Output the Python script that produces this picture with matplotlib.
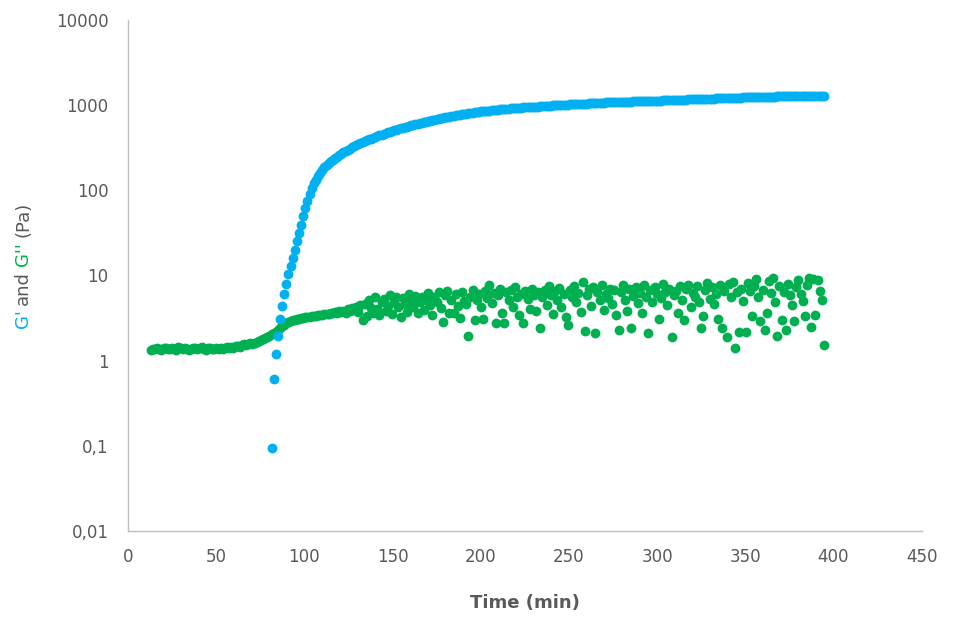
import matplotlib
matplotlib.use('Agg')
import matplotlib.pyplot as plt

# sampling times (min) (~1.2 min step)
time_min = [
    13.0, 14.2, 15.4, 16.6, 17.8, 19.0, 20.2, 21.4, 22.6, 23.8,
    25.0, 26.2, 27.4, 28.6, 29.8, 31.0, 32.2, 33.4, 34.6, 35.8,
    37.0, 38.2, 39.4, 40.6, 41.8, 43.0, 44.2, 45.4, 46.6, 47.8,
    49.0, 50.2, 51.4, 52.6, 53.8, 55.0, 56.2, 57.4, 58.6, 59.8,
    61.0, 62.2, 63.4, 64.6, 65.8, 67.0, 68.2, 69.4, 70.6, 71.8,
    73.0, 74.2, 75.4, 76.6, 77.8, 79.0, 80.2, 81.4, 82.6, 83.8,
    85.0, 86.2, 87.4, 88.6, 89.8, 91.0, 92.2, 93.4, 94.6, 95.8,
    97.0, 98.2, 99.4, 100.6, 101.8, 103.0, 104.2, 105.4, 106.6, 107.8,
    109.0, 110.2, 111.4, 112.6, 113.8, 115.0, 116.2, 117.4, 118.6, 119.8,
    121.0, 122.2, 123.4, 124.6, 125.8, 127.0, 128.2, 129.4, 130.6, 131.8,
    133.0, 134.2, 135.4, 136.6, 137.8, 139.0, 140.2, 141.4, 142.6, 143.8,
    145.0, 146.2, 147.4, 148.6, 149.8, 151.0, 152.2, 153.4, 154.6, 155.8,
    157.0, 158.2, 159.4, 160.6, 161.8, 163.0, 164.2, 165.4, 166.6, 167.8,
    169.0, 170.2, 171.4, 172.6, 173.8, 175.0, 176.2, 177.4, 178.6, 179.8,
    181.0, 182.2, 183.4, 184.6, 185.8, 187.0, 188.2, 189.4, 190.6, 191.8,
    193.0, 194.2, 195.4, 196.6, 197.8, 199.0, 200.2, 201.4, 202.6, 203.8,
    205.0, 206.2, 207.4, 208.6, 209.8, 211.0, 212.2, 213.4, 214.6, 215.8,
    217.0, 218.2, 219.4, 220.6, 221.8, 223.0, 224.2, 225.4, 226.6, 227.8,
    229.0, 230.2, 231.4, 232.6, 233.8, 235.0, 236.2, 237.4, 238.6, 239.8,
    241.0, 242.2, 243.4, 244.6, 245.8, 247.0, 248.2, 249.4, 250.6, 251.8,
    253.0, 254.2, 255.4, 256.6, 257.8, 259.0, 260.2, 261.4, 262.6, 263.8,
    265.0, 266.2, 267.4, 268.6, 269.8, 271.0, 272.2, 273.4, 274.6, 275.8,
    277.0, 278.2, 279.4, 280.6, 281.8, 283.0, 284.2, 285.4, 286.6, 287.8,
    289.0, 290.2, 291.4, 292.6, 293.8, 295.0, 296.2, 297.4, 298.6, 299.8,
    301.0, 302.2, 303.4, 304.6, 305.8, 307.0, 308.2, 309.4, 310.6, 311.8,
    313.0, 314.2, 315.4, 316.6, 317.8, 319.0, 320.2, 321.4, 322.6, 323.8,
    325.0, 326.2, 327.4, 328.6, 329.8, 331.0, 332.2, 333.4, 334.6, 335.8,
    337.0, 338.2, 339.4, 340.6, 341.8, 343.0, 344.2, 345.4, 346.6, 347.8,
    349.0, 350.2, 351.4, 352.6, 353.8, 355.0, 356.2, 357.4, 358.6, 359.8,
    361.0, 362.2, 363.4, 364.6, 365.8, 367.0, 368.2, 369.4, 370.6, 371.8,
    373.0, 374.2, 375.4, 376.6, 377.8, 379.0, 380.2, 381.4, 382.6, 383.8,
    385.0, 386.2, 387.4, 388.6, 389.8, 391.0, 392.2, 393.4, 394.6,
]

# G'' (Pa), one value per time above
g_loss = [
    1.32, 1.38, 1.35, 1.41, 1.36, 1.33, 1.39, 1.42, 1.37, 1.35,
    1.40, 1.38, 1.34, 1.43, 1.39, 1.36, 1.41, 1.37, 1.33, 1.38,
    1.42, 1.39, 1.35, 1.40, 1.44, 1.37, 1.34, 1.39, 1.41, 1.36,
    1.38, 1.42, 1.37, 1.40, 1.36, 1.39, 1.43, 1.40, 1.45, 1.42,
    1.47, 1.50, 1.46, 1.52, 1.55, 1.51, 1.57, 1.60, 1.56, 1.62,
    1.65, 1.68, 1.72, 1.78, 1.84, 1.88, 1.95, 2.02, 2.10, 2.18,
    2.30, 2.40, 2.52, 2.62, 2.72, 2.80, 2.88, 2.95, 3.00, 3.05,
    3.10, 3.14, 3.18, 3.20, 3.25, 3.28, 3.30, 3.35, 3.32, 3.40,
    3.45, 3.42, 3.50, 3.55, 3.48, 3.62, 3.58, 3.70, 3.65, 3.78,
    3.72, 3.85, 3.60, 4.00, 3.80, 4.10, 3.90, 4.30, 3.70, 4.50,
    2.95, 4.60, 3.30, 5.20, 4.10, 3.60, 5.50, 4.00, 3.40, 4.80,
    5.30, 3.80, 4.40, 5.80, 3.50, 4.90, 5.60, 4.20, 3.20, 5.40,
    4.60, 3.70, 6.00, 5.10, 4.30, 5.70, 3.60, 4.80, 5.50, 3.90,
    5.20, 6.20, 4.50, 3.40, 5.60, 4.90, 6.40, 4.10, 2.80, 5.80,
    6.50, 3.60, 5.10, 3.60, 6.00, 4.40, 3.17, 6.30, 5.00, 4.60,
    1.95, 5.60, 6.80, 3.00, 5.20, 6.10, 4.30, 3.03, 6.60, 5.40,
    7.80, 4.70, 6.20, 2.77, 5.80, 6.90, 3.60, 2.77, 6.40, 5.10,
    6.70, 4.20, 7.20, 5.50, 3.40, 6.00, 2.77, 6.50, 5.30, 4.00,
    7.00, 5.80, 3.80, 6.30, 2.42, 5.50, 6.80, 4.50, 7.40, 5.90,
    3.50, 6.60, 5.20, 7.10, 4.30, 6.00, 3.20, 2.64, 6.80, 5.60,
    7.50, 4.80, 6.20, 3.70, 8.30, 2.20, 5.90, 6.90, 4.40, 7.20,
    2.10, 6.40, 5.10, 7.60, 3.90, 6.10, 5.40, 7.00, 4.60, 6.70,
    3.40, 2.30, 6.30, 7.80, 5.20, 3.80, 6.90, 2.42, 5.70, 7.30,
    4.70, 6.20, 3.60, 7.70, 5.50, 2.10, 6.80, 4.90, 7.20, 6.00,
    3.10, 5.40, 7.90, 6.40, 4.50, 7.00, 1.90, 5.80, 6.60, 3.60,
    7.40, 5.10, 3.00, 6.90, 7.80, 4.30, 6.20, 5.60, 7.50, 4.80,
    2.40, 3.30, 6.70, 8.10, 5.30, 7.20, 4.60, 6.00, 3.10, 7.60,
    2.40, 6.50, 1.90, 7.90, 5.60, 8.40, 1.41, 6.30, 2.15, 7.00,
    5.00, 2.15, 8.20, 6.60, 3.30, 7.40, 9.10, 5.50, 2.90, 6.80,
    2.30, 3.60, 8.60, 6.20, 9.40, 4.80, 1.96, 7.50, 3.00, 6.40,
    2.30, 8.00, 5.80, 4.50, 2.90, 7.20, 8.80, 6.00, 5.00, 3.30,
    7.60, 9.40, 2.50, 9.10, 3.40, 8.90, 6.50, 5.20, 1.52,
]

# G' (Pa): below 0.01 before 81.4 min, so only listed from there on
gp_first = 81.4
g_storage = [
    0.094, 0.61, 1.2,
    1.93, 3.1, 4.4, 5.96, 7.9, 10.4, 12.8, 16, 20, 25,
    31.6, 39.4, 49.5, 62, 74, 89, 106, 120, 133, 146,
    160, 173, 185, 196, 207, 218, 228, 239, 248, 257,
    267, 277, 288, 298, 308, 319, 328, 337, 347, 356,
    366, 375, 385, 394, 403, 412, 421, 430, 439, 448,
    457, 466, 475, 484, 494, 504, 513, 523, 533, 542,
    550, 557, 565, 574, 582, 592, 600, 608, 618, 627,
    635, 646, 655, 664, 673, 684, 692, 698, 706, 714,
    723, 731, 740, 746, 755, 762, 769, 776, 783, 791,
    798, 804, 811, 818, 826, 834, 839, 845, 849, 855,
    859, 865, 869, 875, 879, 885, 889, 893, 899, 904,
    910, 914, 920, 925, 927, 931, 935, 938, 942, 946,
    948, 953, 957, 959, 964, 968, 970, 975, 979, 984,
    986, 991, 995, 998, 1002, 1005, 1007, 1012, 1014, 1016,
    1021, 1023, 1026, 1030, 1033, 1035, 1040, 1042, 1045, 1050,
    1052, 1054, 1059, 1062, 1067, 1069, 1072, 1074, 1076, 1078,
    1080, 1083, 1085, 1087, 1089, 1091, 1094, 1096, 1098, 1100,
    1102, 1105, 1107, 1109, 1111, 1113, 1116, 1118, 1120, 1122,
    1125, 1127, 1130, 1132, 1135, 1137, 1139, 1142, 1144, 1147,
    1149, 1152, 1154, 1156, 1159, 1161, 1164, 1166, 1169, 1171,
    1173, 1176, 1178, 1181, 1183, 1186, 1189, 1191, 1194, 1197,
    1199, 1202, 1205, 1207, 1210, 1213, 1215, 1218, 1221, 1223,
    1226, 1229, 1231, 1234, 1237, 1239, 1242, 1244, 1246, 1247,
    1249, 1250, 1252, 1253, 1255, 1256, 1258, 1259, 1260, 1262,
    1263, 1265, 1266, 1268, 1269, 1270, 1272, 1273, 1275, 1276,
    1278, 1279, 1280, 1282, 1283, 1285, 1286, 1288, 1289,
]
t_storage = [t for t in time_min if t >= gp_first]

x_ticks = [0, 50, 100, 150, 200, 250, 300, 350, 400, 450]
y_ticks = [0.01, 0.1, 1, 10, 100, 1000, 10000]
y_tick_labels = ['0,01', '0,1', '1', '10', '100', '1000', '10000']

blue = '#00B0F0'
green = '#00B050'
gray = '#595959'

plt.rcParams['font.family'] = ['DejaVu Sans']

fig = plt.figure(figsize=(9.62, 6.18), dpi=100)
ax = fig.add_axes([0.133, 0.141, 0.825, 0.827])

ax.scatter(time_min, g_loss, s=50, color=green, linewidths=0, zorder=2)
ax.scatter(t_storage, g_storage, s=50, color=blue, linewidths=0, zorder=3)

ax.set_yscale('log')
ax.set_xlim(0, 450)
ax.set_ylim(0.01, 10000)
ax.set_xticks(x_ticks)
ax.set_xticklabels([str(v) for v in x_ticks])
ax.set_yticks(y_ticks)
ax.set_yticklabels(y_tick_labels)
ax.minorticks_off()
ax.tick_params(axis='both', length=0, labelsize=12, labelcolor=gray)
ax.tick_params(axis='x', pad=12)
ax.tick_params(axis='y', pad=14)

for side in ['top', 'right']:
    ax.spines[side].set_visible(False)
for side in ['left', 'bottom']:
    ax.spines[side].set_color('#BFBFBF')
    ax.spines[side].set_linewidth(1.0)

fig.text(0.5457, 1 - 603 / 618, 'Time (min)', ha='center', va='center',
         fontsize=13, fontweight='bold', color=gray)

# multi-coloured y label, built piece by piece from bottom to top
parts = [("G'", blue), ('and', gray), ("G''", green), ('(Pa)', gray)]
fig.canvas.draw()
renderer = fig.canvas.get_renderer()
H = fig.bbox.height
gap = 5.0
texts = []
for s, c in parts:
    t = fig.text(0.024, 0, s, rotation=90, color=c, fontsize=13,
                 ha='center', va='bottom')
    texts.append(t)
heights = [t.get_window_extent(renderer).height for t in texts]
total = sum(heights) + gap * (len(texts) - 1)
y0 = (618 - 265) - total / 2
for t, h in zip(texts, heights):
    t.set_y(y0 / H)
    y0 += h + gap

fig.savefig('out.png', dpi=100)
